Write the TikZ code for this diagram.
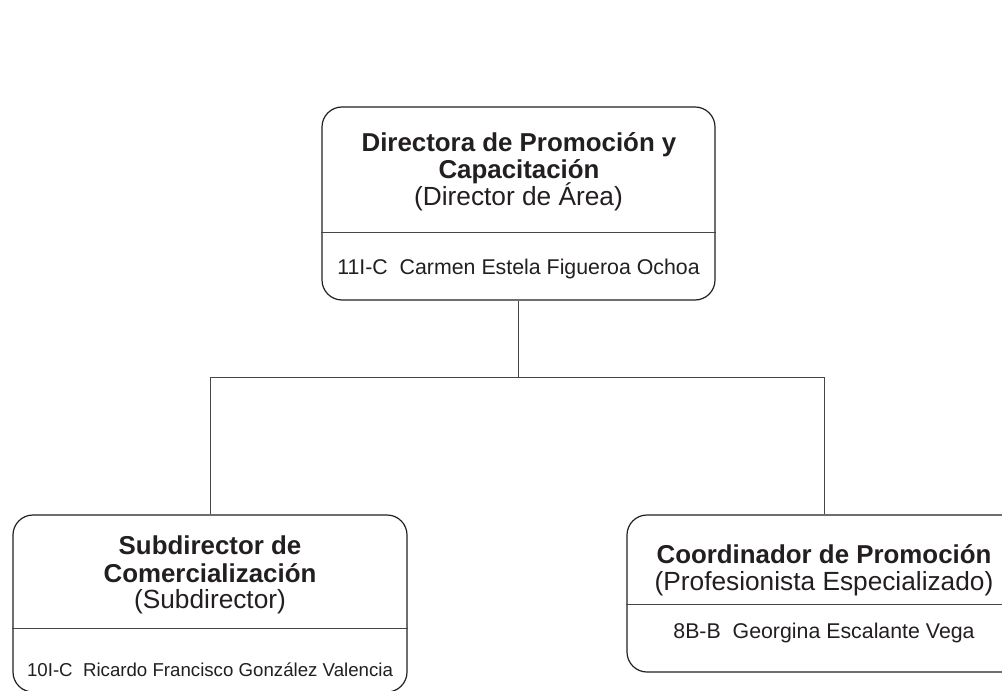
\documentclass[tikz,border=0pt]{standalone}
\usepackage{fontspec}
\setmainfont{Liberation Sans}
\definecolor{inkgray}{RGB}{35,31,32}
\definecolor{rulegray}{RGB}{70,70,70}
\tikzset{
  orgbox/.style={draw=inkgray, line width=0.9pt, rounded corners=15pt, inner sep=0pt},
  headline/.style={anchor=base, inner sep=0pt, text=inkgray, font=\fontsize{19.4}{21}\selectfont\bfseries},
  rankline/.style={anchor=base, inner sep=0pt, text=inkgray, font=\fontsize{19.7}{21}\selectfont},
  nameline/.style={anchor=base, inner sep=0pt, text=inkgray, font=\fontsize{16}{18}\selectfont},
  link/.style={draw=rulegray, line width=0.75pt}
}
\begin{document}
\begin{tikzpicture}[x=0.75pt,y=0.75pt,yscale=-1,xscale=1]
\useasboundingbox[fill=white] (0,0) rectangle (1002,691);

% Boxes
\node[orgbox, minimum width=294.75pt, minimum height=144.75pt] (dir) at (518.5,203.5) {};
\node[orgbox, minimum width=295.5pt, minimum height=132.75pt] (sub) at (210,603.5) {};
\node[orgbox, minimum width=295.5pt, minimum height=117.75pt] (coord) at (824,593.5) {};

% Dividers
\coordinate (dirdiv) at (0,233);
\coordinate (subdiv) at (0,628);
\coordinate (coorddiv) at (0,604);
\draw[link] (dir.west |- dirdiv) -- (dir.east |- dirdiv);
\draw[link] (sub.west |- subdiv) -- (sub.east |- subdiv);
\draw[link] (coord.west |- coorddiv) -- (coord.east |- coorddiv);

% Connectors
\coordinate (bus) at (518.5,377);
\draw[link] (dir.south) -- (bus);
\draw[link] (bus) -| (sub.north);
\draw[link] (bus) -| (coord.north);

% Text Node
\node[headline] (dirt1) at (519,152) {Directora de Promoción y};
\node[headline] (dirt2) at (519,179) {Capacitación};
\node[rankline] (dirr) at (518.5,206) {(Director de Área)};
\node[nameline] (dirn) at (518.5,275) {11I-C\ \ Carmen Estela Figueroa Ochoa};
% Text Node
\node[headline] (subt1) at (210,554) {Subdirector de};
\node[headline] (subt2) at (210,582) {Comercialización};
\node[rankline] (subr) at (210,608) {(Subdirector)};
\node[nameline, font=\fontsize{14}{16}\selectfont] (subn) at (210,676) {10I-C\ \ Ricardo Francisco González Valencia};
% Text Node
\node[headline] (coordt) at (824,563) {Coordinador de Promoción};
\node[rankline] (coordr) at (824,590) {(Profesionista Especializado)};
\node[nameline] (coordn) at (824,638) {8B-B\ \ Georgina Escalante Vega};

\end{tikzpicture}
\end{document}
